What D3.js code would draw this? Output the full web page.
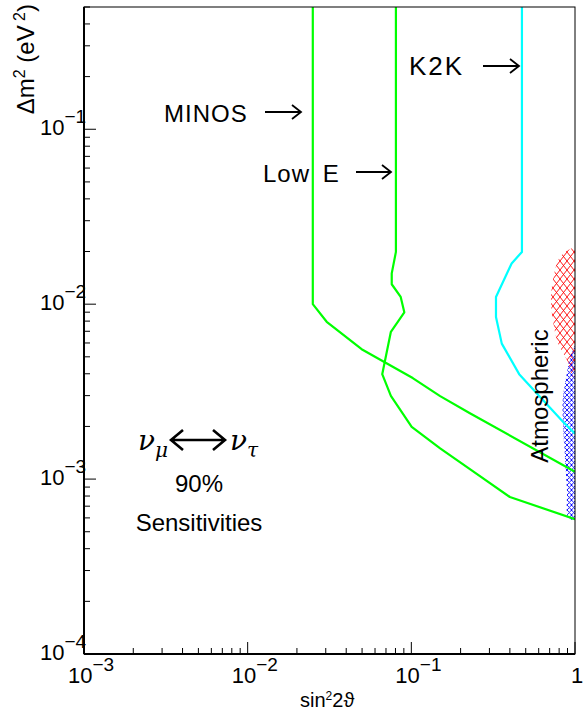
<!DOCTYPE html>
<meta charset="UTF-8">
<style>
body { margin: 0; background: #fff; }
text { font-family: "Liberation Sans", Arial, sans-serif; fill: #000; }
.curve { fill: none; stroke-width: 2.2px; stroke-linejoin: round; }
</style>
<body>
<script src="https://d3js.org/d3.v7.min.js"></script>
<script>

// sin^2 2theta / delta m^2 pairs
var minosX = [0.025, 0.025, 0.0304, 0.0497, 0.102, 0.150, 0.228, 1.0];
var minosY = [0.5, 0.0100, 0.00793, 0.00553, 0.00378, 0.00298, 0.00238, 0.0011];

var lowEX = [0.0805, 0.0805, 0.0759, 0.0759, 0.0861, 0.0906, 0.075, 0.0664, 0.075, 0.1005, 0.150, 0.228, 0.400, 1.0];
var lowEY = [0.5, 0.0199, 0.0150, 0.0130, 0.0110, 0.00898, 0.00695, 0.00398, 0.00299, 0.00199, 0.00150, 0.00114, 0.00079, 0.00059];

var k2kX = [0.474, 0.474, 0.410, 0.329, 0.329, 0.357, 0.456, 0.847, 1.0];
var k2kY = [0.5, 0.0199, 0.0171, 0.0110, 0.00845, 0.00595, 0.00398, 0.00212, 0.00182];

// atmospheric allowed regions (left boundary, closed along sin^2 2theta = 1)
var atmRedX = [1.0, 0.957, 0.809, 0.733, 0.713, 0.733, 0.787, 0.893, 0.97, 1.0];
var atmRedY = [0.0209, 0.0209, 0.0186, 0.0137, 0.01055, 0.0081, 0.00598, 0.00479, 0.00383, 0.00383];

var atmBlueX = [1.0, 0.931, 0.893, 0.844, 0.844, 0.867, 0.893, 0.906, 0.97, 1.0];
var atmBlueY = [0.00583, 0.00498, 0.00404, 0.00295, 0.00209, 0.00134, 0.000865, 0.000607, 0.000583, 0.000583];

var xMajor = [1e-3, 1e-2, 1e-1, 1];
var xMajorExp = ["-3", "-2", "-1", ""];
var yMajor = [1e-4, 1e-3, 1e-2, 1e-1];
var yMajorExp = ["-4", "-3", "-2", "-1"];

var W = 587, H = 715;
var pl = 84, pr = 575, pt = 7, pb = 654;

var x = d3.scaleLog().domain([1e-3, 1]).range([pl, pr]);
var y = d3.scaleLog().domain([1e-4, 0.5]).range([pb, pt]);

var svg = d3.select("body").append("svg")
    .attr("width", W)
    .attr("height", H);

var defs = svg.append("defs");
defs.append("clipPath").attr("id", "plot")
  .append("rect")
    .attr("x", pl).attr("y", pt)
    .attr("width", pr - pl).attr("height", pb - pt);

function hatch(id, color, w, h, sw) {
  var p = defs.append("pattern")
      .attr("id", id)
      .attr("patternUnits", "userSpaceOnUse")
      .attr("width", w).attr("height", h);
  p.append("path")
      .attr("d", "M0,0 L" + w + "," + h + " M" + w + ",0 L0," + h)
      .attr("stroke", color)
      .attr("stroke-width", sw);
}
hatch("redHatch", "#ff0000", 7, 9, 0.9);
hatch("blueHatch", "#0000ff", 4.5, 5, 0.9);

var g = svg.append("g").attr("clip-path", "url(#plot)");

function pts(xs, ys) { return xs.map(function(v, i) { return [v, ys[i]]; }); }

var line = d3.line()
    .x(function(d) { return x(d[0]); })
    .y(function(d) { return y(d[1]); });

var smooth = d3.line()
    .x(function(d) { return x(d[0]); })
    .y(function(d) { return y(d[1]); })
    .curve(d3.curveCatmullRom);

g.append("path")
    .attr("d", smooth(pts(atmRedX, atmRedY)) + "Z")
    .attr("fill", "url(#redHatch)");
g.append("path")
    .attr("d", smooth(pts(atmBlueX, atmBlueY)) + "Z")
    .attr("fill", "url(#blueHatch)");

g.append("path").attr("class", "curve").attr("stroke", "#00ff00").attr("d", line(pts(minosX, minosY)));
g.append("path").attr("class", "curve").attr("stroke", "#00ff00").attr("d", line(pts(lowEX, lowEY)));
g.append("path").attr("class", "curve").attr("stroke", "#00ffff").attr("d", line(pts(k2kX, k2kY)));

// frame
svg.append("rect")
    .attr("x", pl).attr("y", pt)
    .attr("width", pr - pl).attr("height", pb - pt)
    .attr("fill", "none").attr("stroke", "#000").attr("stroke-width", 1);
svg.append("line").attr("x1", pl).attr("x2", pl).attr("y1", pt).attr("y2", pb)
    .attr("stroke", "#000").attr("stroke-width", 2);
svg.append("line").attr("x1", pl).attr("x2", pr).attr("y1", pb).attr("y2", pb)
    .attr("stroke", "#000").attr("stroke-width", 2);

// ticks
var xMinor = x.ticks().filter(function(v) { return xMajor.indexOf(v) < 0; });
var yMinor = y.ticks().filter(function(v) { return yMajor.indexOf(v) < 0 && v <= 0.5; });

var ax = svg.append("g").attr("stroke", "#000").attr("stroke-width", 1);
xMinor.forEach(function(v) {
  ax.append("line").attr("x1", x(v)).attr("x2", x(v)).attr("y1", pb).attr("y2", pb - 6);
});
xMajor.forEach(function(v) {
  ax.append("line").attr("x1", x(v)).attr("x2", x(v)).attr("y1", pb).attr("y2", pb - 12);
});
yMinor.forEach(function(v) {
  ax.append("line").attr("x1", pl).attr("x2", pl + 6).attr("y1", y(v)).attr("y2", y(v));
});
yMajor.forEach(function(v) {
  ax.append("line").attr("x1", pl).attr("x2", pl + 12).attr("y1", y(v)).attr("y2", y(v));
});

// tick labels
xMajor.forEach(function(v, i) {
  var t = svg.append("text")
      .attr("x", x(v) - (xMajorExp[i] ? 16 : 4))
      .attr("y", 683)
      .style("font-size", "22px");
  if (xMajorExp[i]) {
    t.append("tspan").text("10");
    t.append("tspan").attr("dy", -12).style("font-size", "19px").text("\u2212" + xMajorExp[i].slice(1));
  } else {
    t.text("1");
  }
});
yMajor.forEach(function(v, i) {
  var t = svg.append("text")
      .attr("x", 40)
      .attr("y", y(v) + 6)
      .style("font-size", "22px");
  t.append("tspan").text("10");
  t.append("tspan").attr("dy", -12).style("font-size", "19px").text("\u2212" + yMajorExp[i].slice(1));
});

// axis titles
var yt = svg.append("text")
    .attr("transform", "translate(34,4) rotate(-90)")
    .attr("text-anchor", "end")
    .style("font-size", "24px");
yt.append("tspan").text("\u0394m");
yt.append("tspan").attr("dy", -9).style("font-size", "16px").text("2");
yt.append("tspan").attr("dy", 9).text(" (eV");
yt.append("tspan").attr("dy", -9).style("font-size", "16px").text(" 2");
yt.append("tspan").attr("dy", 9).text(")");

var xt = svg.append("text")
    .attr("x", 300).attr("y", 707)
    .style("font-size", "20px");
xt.append("tspan").text("sin");
xt.append("tspan").attr("dy", -7).style("font-size", "12px").text("2");
xt.append("tspan").attr("dy", 7).text("2\u03d1");

// curve labels with arrows
function arrow(x1, x2, yy) {
  svg.append("path")
      .attr("d", "M" + x1 + "," + yy + " H" + x2 + " M" + (x2 - 9) + "," + (yy - 7) + " L" + x2 + "," + yy + " L" + (x2 - 9) + "," + (yy + 7))
      .attr("fill", "none").attr("stroke", "#000").attr("stroke-width", 1.8);
}
var labels = [
  {text: "MINOS", x: 164, y: 122, fs: 24, ls: 1, ws: 0, a1: 265, a2: 301, ay: 112},
  {text: "Low E", x: 263, y: 182, fs: 24, ls: 1, ws: 5, a1: 356, a2: 391, ay: 172},
  {text: "K2K", x: 409, y: 75, fs: 26, ls: 2, ws: 0, a1: 483, a2: 519, ay: 66}
];
labels.forEach(function(l) {
  svg.append("text").attr("x", l.x).attr("y", l.y)
      .style("font-size", l.fs + "px")
      .style("letter-spacing", l.ls + "px")
      .style("word-spacing", l.ws + "px")
      .text(l.text);
  arrow(l.a1, l.a2, l.ay);
});

svg.append("text")
    .attr("transform", "translate(548,396) rotate(-90)")
    .attr("text-anchor", "middle")
    .style("font-size", "24px")
    .text("Atmospheric");

// nu_mu <-> nu_tau
var nu = svg.append("text").attr("x", 138).attr("y", 450)
    .style("font-size", "28px").style("font-style", "italic")
    .style("font-family", "'DejaVu Serif', serif");
nu.append("tspan").text("\u03bd");
nu.append("tspan").attr("dy", 7).style("font-size", "20px").text("\u03bc");
var nu2 = svg.append("text").attr("x", 230).attr("y", 450)
    .style("font-size", "28px").style("font-style", "italic")
    .style("font-family", "'DejaVu Serif', serif");
nu2.append("tspan").text("\u03bd");
nu2.append("tspan").attr("dy", 7).style("font-size", "20px").text("\u03c4");
svg.append("path")
    .attr("d", "M172,440 H224 M183,430 L171,440 L183,450 M213,430 L225,440 L213,450")
    .attr("fill", "none").attr("stroke", "#000").attr("stroke-width", 2.6);

svg.append("text").attr("x", 199).attr("y", 492).attr("text-anchor", "middle")
    .style("font-size", "24px").text("90%");
svg.append("text").attr("x", 199).attr("y", 531).attr("text-anchor", "middle")
    .style("font-size", "24px").text("Sensitivities");

</script>
</body>
